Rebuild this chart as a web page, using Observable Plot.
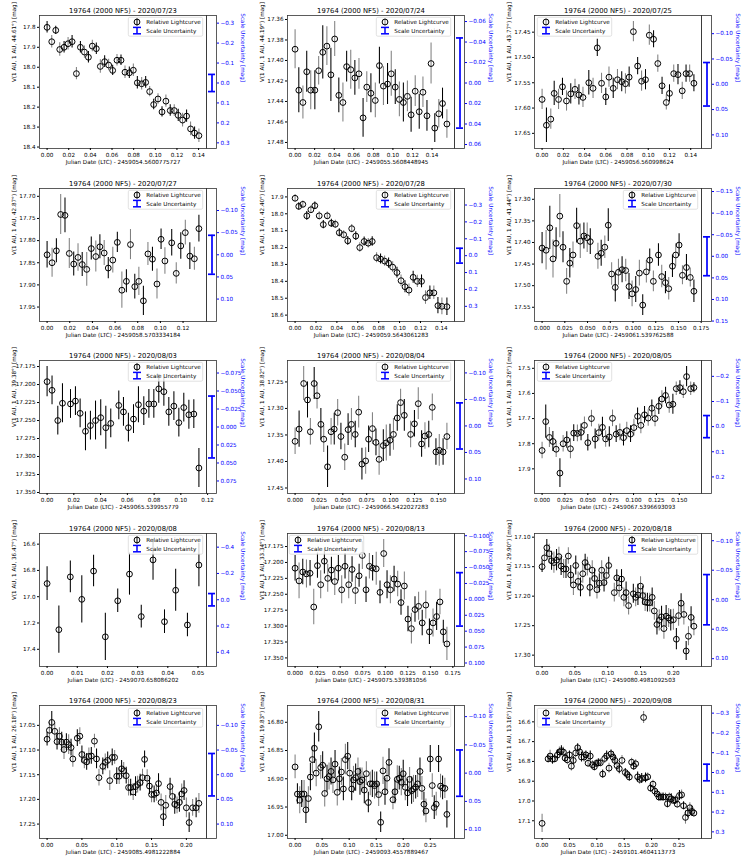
<!DOCTYPE html>
<html><head><meta charset="utf-8">
<script src="https://cdn.jsdelivr.net/npm/d3@7"></script>
<script src="https://cdn.jsdelivr.net/npm/@observablehq/plot@0.6"></script>
<style>
body{margin:0;background:#fff;font-family:"DejaVu Sans",sans-serif;}
#fig{position:relative;width:747px;height:863px;overflow:hidden;background:#fff;}
.panel{position:absolute;width:249px;height:173px;}
.panel svg{position:absolute;left:0;top:0;overflow:visible;}
</style></head><body><div id="fig"></div>
<script>
// ---------- data ----------
const dates = ["2020/07/23","2020/07/24","2020/07/25","2020/07/27","2020/07/28","2020/07/30","2020/08/03","2020/08/04","2020/08/05","2020/08/08","2020/08/13","2020/08/18","2020/08/23","2020/08/31","2020/09/08"];
const phases = ["44.61","44.19","43.77","42.87","42.40","41.44","39.38","38.82","38.26","36.47","33.34","29.90","26.18","19.83","13.16"];
const jdBase = ["2459054.5600775727","2459055.5608448945","2459056.560998624","2459058.5703334184","2459059.5643061283","2459061.539762588","2459065.539955779","2459066.5422027283","2459067.5396693093","2459070.658086202","2459075.539381056","2459080.4981092503","2459085.4981222884","2459093.4557889467","2459101.4604113773"];
const scaleZero = [18.079,17.422,17.553,17.832,18.248,17.432,17.259,17.333,17.732,17.023,17.258,17.206,17.150,16.890,16.856];
const scaleUnc = [0.043,0.044,0.043,0.044,0.044,0.045,0.043,0.0435,0.044,0.047,0.042,0.0426,0.043,0.041,0.042];

const x0723 = [0,0.0043,0.008,0.0117,0.0157,0.0194,0.0231,0.0271,0.0308,0.0345,0.0382,0.0418,0.0455,0.0492,0.0532,0.0569,0.0606,0.0646,0.0683,0.072,0.076,0.0797,0.0834,0.0874,0.0911,0.0948,0.0985,0.1025,0.1062,0.1098,0.1138,0.1175,0.1212,0.1252,0.1289,0.1326,0.1363,0.1403];
const y0723 = [17.800,17.872,17.815,17.911,17.900,17.882,17.872,18.032,17.900,17.924,17.950,17.894,17.907,17.996,17.972,17.989,18.016,17.965,17.965,18.025,18.028,18.015,18.078,18.083,18.076,18.122,18.187,18.159,18.224,18.170,18.217,18.217,18.241,18.265,18.245,18.309,18.330,18.343];
const e0723 = [0.029,0.031,0.021,0.034,0.029,0.031,0.031,0.031,0.029,0.031,0.029,0.029,0.029,0.034,0.029,0.029,0.026,0.029,0.026,0.031,0.029,0.031,0.031,0.031,0.029,0.026,0.026,0.026,0.026,0.031,0.029,0.029,0.031,0.034,0.031,0.034,0.031,0.034];

const x0724 = [0,0.0038,0.008,0.0119,0.016,0.0202,0.0241,0.0283,0.0325,0.0366,0.0405,0.0447,0.0489,0.0527,0.0569,0.0611,0.0653,0.0695,0.0733,0.0775,0.082,0.0862,0.0903,0.0945,0.0983,0.1024,0.1066,0.1107,0.1148,0.1186,0.1228,0.1269,0.1307,0.1348,0.139,0.1428,0.1469,0.1507,0.1552];
const y0724 = [17.389,17.429,17.441,17.411,17.429,17.429,17.410,17.392,17.386,17.414,17.379,17.434,17.441,17.406,17.409,17.417,17.413,17.456,17.426,17.432,17.439,17.405,17.425,17.423,17.413,17.426,17.438,17.441,17.435,17.453,17.430,17.450,17.431,17.454,17.403,17.466,17.452,17.442,17.462];
const e0724 = [0.019,0.022,0.016,0.020,0.019,0.019,0.014,0.026,0.019,0.026,0.017,0.017,0.019,0.015,0.019,0.017,0.015,0.019,0.015,0.019,0.017,0.018,0.019,0.020,0.022,0.017,0.017,0.019,0.015,0.017,0.015,0.017,0.015,0.015,0.020,0.014,0.014,0.015,0.014];

const x0725 = [0,0.0041,0.0082,0.0114,0.0155,0.0192,0.023,0.027,0.031,0.0347,0.0385,0.044,0.048,0.052,0.056,0.060,0.063,0.067,0.071,0.075,0.0785,0.082,0.086,0.090,0.0937,0.0974,0.101,0.105,0.109,0.113,0.117,0.120,0.124,0.128,0.132,0.1356,0.139,0.143];
const y0725 = [17.583,17.634,17.622,17.571,17.583,17.558,17.586,17.572,17.563,17.574,17.579,17.550,17.561,17.481,17.551,17.578,17.539,17.561,17.544,17.548,17.552,17.539,17.449,17.517,17.547,17.544,17.456,17.464,17.512,17.556,17.589,17.571,17.532,17.534,17.566,17.532,17.532,17.551];
const e0725 = [0.02,0.034,0.02,0.024,0.02,0.017,0.02,0.02,0.02,0.02,0.02,0.024,0.02,0.017,0.02,0.017,0.02,0.02,0.02,0.02,0.02,0.02,0.02,0.017,0.02,0.02,0.02,0.017,0.017,0.017,0.015,0.017,0.017,0.02,0.017,0.017,0.017,0.017];

const x0727 = [0,0.0044,0.0082,0.012,0.0158,0.0196,0.0235,0.0273,0.031,0.035,0.039,0.043,0.0466,0.0504,0.054,0.058,0.062,0.066,0.070,0.0736,0.0774,0.081,0.085,0.089,0.093,0.097,0.1006,0.104,0.110,0.114,0.118,0.122,0.126,0.130,0.134];
const y0727 = [17.832,17.850,17.823,17.741,17.743,17.829,17.853,17.838,17.854,17.865,17.818,17.836,17.814,17.828,17.862,17.844,17.804,17.912,17.892,17.809,17.904,17.892,17.936,17.830,17.842,17.898,17.797,17.846,17.805,17.874,17.812,17.782,17.835,17.841,17.773];
const e0727 = [0.03,0.033,0.027,0.045,0.039,0.034,0.027,0.031,0.027,0.038,0.026,0.035,0.027,0.028,0.024,0.029,0.023,0.041,0.026,0.034,0.028,0.032,0.033,0.026,0.027,0.034,0.023,0.03,0.03,0.024,0.03,0.028,0.03,0.026,0.03];

const x0728 = [0,0.0035,0.0074,0.0112,0.0151,0.0189,0.0231,0.027,0.0308,0.0347,0.0385,0.0423,0.0465,0.0504,0.0542,0.0581,0.0619,0.0661,0.07,0.0738,0.078,0.0818,0.0857,0.0895,0.0934,0.0975,0.1014,0.1052,0.109,0.113,0.117,0.121,0.1248,0.129,0.1328,0.1367,0.1405,0.1453];
const y0728 = [17.908,17.956,17.944,18.012,17.976,17.952,18.012,18.064,18.012,18.056,18.062,18.112,18.124,18.160,18.088,18.132,18.200,18.164,18.174,18.164,18.260,18.268,18.280,18.292,18.316,18.348,18.396,18.432,18.452,18.376,18.400,18.400,18.496,18.468,18.468,18.544,18.548,18.550];
const e0728 = [0.022,0.022,0.02,0.026,0.022,0.022,0.024,0.024,0.022,0.024,0.024,0.024,0.024,0.026,0.024,0.026,0.028,0.026,0.028,0.028,0.03,0.03,0.03,0.03,0.032,0.032,0.034,0.036,0.036,0.036,0.036,0.038,0.04,0.04,0.04,0.048,0.05,0.052];

const x0730 = [0,0.0044,0.0085,0.012,0.0154,0.0195,0.023,0.027,0.0305,0.034,0.038,0.042,0.046,0.0496,0.053,0.0614,0.065,0.069,0.0728,0.0765,0.0805,0.084,0.088,0.092,0.0956,0.099,0.103,0.107,0.1107,0.1147,0.1184,0.1224,0.128,0.1316,0.1357,0.1393,0.1434,0.147,0.1507,0.1544,0.1588,0.163,0.167];
const y0730 = [17.413,17.418,17.366,17.438,17.402,17.339,17.411,17.490,17.448,17.429,17.361,17.397,17.385,17.389,17.398,17.432,17.425,17.411,17.360,17.473,17.504,17.469,17.463,17.465,17.502,17.519,17.509,17.471,17.545,17.468,17.441,17.490,17.429,17.479,17.493,17.507,17.455,17.429,17.406,17.476,17.458,17.481,17.513];
const e0730 = [0.036,0.046,0.05,0.044,0.036,0.05,0.036,0.03,0.034,0.03,0.04,0.04,0.03,0.034,0.03,0.03,0.03,0.026,0.038,0.026,0.034,0.03,0.03,0.026,0.03,0.03,0.03,0.03,0.024,0.026,0.026,0.024,0.026,0.026,0.026,0.026,0.026,0.026,0.026,0.022,0.03,0.022,0.026];

const x0803 = [0,0.0037,0.008,0.0115,0.0175,0.0212,0.0247,0.0287,0.0324,0.0362,0.0401,0.0439,0.0476,0.0536,0.0571,0.0608,0.0646,0.0683,0.0723,0.0761,0.0798,0.0835,0.0873,0.091,0.0948,0.0985,0.1022,0.106,0.1097,0.1135];
const y0803 = [17.196,17.208,17.250,17.226,17.227,17.223,17.240,17.265,17.257,17.250,17.246,17.260,17.254,17.229,17.238,17.260,17.248,17.228,17.237,17.227,17.227,17.206,17.210,17.238,17.230,17.253,17.232,17.242,17.241,17.316];
const e0803 = [0.021,0.02,0.02,0.027,0.02,0.02,0.02,0.027,0.02,0.027,0.025,0.03,0.02,0.02,0.02,0.02,0.02,0.025,0.02,0.02,0.02,0.02,0.02,0.02,0.02,0.02,0.02,0.02,0.02,0.027];

const x0804 = [0,0.0042,0.009,0.013,0.016,0.020,0.023,0.027,0.030,0.034,0.0377,0.041,0.0446,0.048,0.052,0.0555,0.059,0.063,0.0666,0.070,0.0739,0.077,0.081,0.0847,0.088,0.0924,0.0955,0.0994,0.103,0.107,0.1105,0.1144,0.121,0.125,0.129,0.1325,0.136,0.140,0.1437,0.1475,0.151,0.155,0.159];
const y0804 = [17.362,17.339,17.253,17.284,17.344,17.253,17.276,17.330,17.358,17.410,17.344,17.339,17.308,17.353,17.392,17.340,17.330,17.349,17.307,17.405,17.399,17.358,17.338,17.364,17.396,17.370,17.365,17.360,17.349,17.318,17.289,17.313,17.349,17.329,17.291,17.367,17.352,17.349,17.298,17.382,17.379,17.382,17.353];
const e0804 = [0.025,0.034,0.032,0.034,0.025,0.03,0.025,0.03,0.025,0.039,0.025,0.03,0.025,0.025,0.025,0.03,0.03,0.025,0.03,0.03,0.025,0.025,0.03,0.025,0.03,0.03,0.034,0.03,0.03,0.025,0.025,0.03,0.025,0.025,0.03,0.025,0.025,0.025,0.025,0.025,0.03,0.025,0.025];

const x0805 = [0,0.004,0.008,0.0118,0.0154,0.0195,0.023,0.027,0.031,0.0346,0.0386,0.0426,0.0463,0.050,0.054,0.058,0.062,0.066,0.0695,0.0735,0.077,0.081,0.085,0.089,0.0926,0.0967,0.1004,0.1044,0.108,0.112,0.116,0.120,0.1235,0.1276,0.131,0.135,0.139,0.143,0.1467,0.1507,0.1544,0.158,0.1625,0.166];
const y0805 = [17.827,17.712,17.775,17.791,17.822,17.917,17.800,17.785,17.820,17.758,17.759,17.755,17.727,17.796,17.700,17.781,17.756,17.735,17.781,17.773,17.699,17.762,17.755,17.776,17.748,17.762,17.736,17.691,17.727,17.685,17.698,17.659,17.700,17.651,17.622,17.608,17.646,17.643,17.581,17.577,17.593,17.533,17.581,17.577];
const e0805 = [0.033,0.066,0.04,0.04,0.033,0.057,0.033,0.033,0.04,0.033,0.033,0.033,0.033,0.033,0.033,0.04,0.033,0.04,0.033,0.04,0.033,0.033,0.033,0.033,0.033,0.033,0.033,0.033,0.033,0.033,0.033,0.033,0.033,0.033,0.033,0.033,0.033,0.04,0.027,0.027,0.027,0.04,0.027,0.02];

const x0808 = [0,0.0039,0.0077,0.0115,0.0154,0.0193,0.0234,0.0273,0.0312,0.0351,0.0389,0.0426,0.0465,0.0503];
const y0808 = [16.900,17.251,16.849,17.020,16.805,17.305,17.031,16.828,17.151,16.720,17.190,16.951,17.215,16.759];
const e0808 = [0.128,0.18,0.12,0.18,0.12,0.18,0.09,0.16,0.087,0.155,0.09,0.16,0.09,0.165];

const x0813 = [0,0.0044,0.0085,0.0126,0.0166,0.0207,0.0248,0.0284,0.0325,0.0362,0.0403,0.044,0.048,0.0517,0.0554,0.0595,0.0632,0.0669,0.071,0.0746,0.0787,0.0824,0.086,0.090,0.0942,0.0983,0.102,0.1057,0.1098,0.1138,0.1175,0.1212,0.1252,0.129,0.133,0.137,0.141,0.145,0.149,0.153,0.157,0.1607,0.1644,0.1684];
const y0813 = [17.209,17.229,17.215,17.218,17.217,17.270,17.205,17.235,17.198,17.225,17.212,17.230,17.209,17.243,17.206,17.235,17.211,17.244,17.221,17.189,17.243,17.206,17.209,17.210,17.247,17.186,17.235,17.243,17.226,17.234,17.263,17.237,17.289,17.304,17.274,17.269,17.295,17.267,17.309,17.295,17.285,17.262,17.309,17.328];
const e0813 = [0.02,0.028,0.02,0.022,0.02,0.028,0.02,0.022,0.02,0.022,0.02,0.022,0.02,0.022,0.02,0.022,0.02,0.022,0.018,0.022,0.02,0.02,0.02,0.026,0.018,0.022,0.022,0.022,0.02,0.02,0.02,0.022,0.02,0.024,0.02,0.022,0.02,0.022,0.02,0.022,0.022,0.02,0.018,0.026];

const x0818 = [0,0.0036,0.0072,0.0108,0.0144,0.018,0.022,0.0256,0.029,0.0328,0.0364,0.040,0.0436,0.0477,0.0513,0.0549,0.0585,0.062,0.0656,0.069,0.0728,0.0764,0.080,0.0836,0.0872,0.0908,0.0944,0.098,0.1015,0.110,0.1138,0.1174,0.121,0.1246,0.128,0.1318,0.139,0.1426,0.146,0.150,0.1533,0.157,0.1605,0.164,0.1677,0.171,0.175,0.1785,0.182,0.1856,0.189,0.1928,0.196,0.200,0.2046,0.208,0.2118,0.216,0.2195,0.223,0.227,0.2313];
const y0818 = [17.150,17.135,17.118,17.128,17.140,17.143,17.139,17.133,17.149,17.154,17.154,17.132,17.164,17.181,17.148,17.175,17.185,17.162,17.143,17.150,17.185,17.156,17.170,17.189,17.178,17.156,17.177,17.165,17.148,17.194,17.169,17.186,17.171,17.202,17.194,17.216,17.196,17.202,17.198,17.183,17.199,17.210,17.211,17.211,17.202,17.225,17.248,17.241,17.235,17.255,17.234,17.237,17.241,17.240,17.273,17.233,17.212,17.231,17.293,17.268,17.236,17.251];
const e0818 = [0.01,0.012,0.014,0.016,0.016,0.018,0.018,0.016,0.016,0.016,0.016,0.014,0.016,0.018,0.016,0.016,0.016,0.016,0.014,0.016,0.016,0.016,0.016,0.016,0.016,0.016,0.016,0.016,0.014,0.016,0.014,0.016,0.016,0.016,0.018,0.016,0.016,0.016,0.018,0.016,0.016,0.016,0.016,0.016,0.016,0.016,0.018,0.018,0.018,0.018,0.018,0.016,0.018,0.018,0.018,0.018,0.016,0.018,0.016,0.016,0.018,0.016];

const x0823 = [0,0.0033,0.0067,0.011,0.0143,0.0177,0.021,0.0243,0.0277,0.031,0.0344,0.037,0.0434,0.047,0.050,0.0535,0.0568,0.060,0.0635,0.068,0.071,0.0745,0.080,0.0835,0.087,0.090,0.0935,0.097,0.100,0.1035,0.107,0.110,0.1136,0.117,0.120,0.1236,0.127,0.130,0.1336,0.137,0.140,0.1437,0.147,0.150,0.1537,0.157,0.160,0.1637,0.167,0.1704,0.1766,0.180,0.1833,0.1866,0.190,0.1933,0.1967,0.200,0.204,0.209,0.214,0.218];
const y0823 = [17.078,17.060,17.044,17.062,17.083,17.072,17.084,17.099,17.084,17.089,17.095,17.118,17.076,17.072,17.109,17.121,17.124,17.113,17.112,17.082,17.118,17.156,17.133,17.125,17.121,17.162,17.115,17.115,17.153,17.153,17.138,17.142,17.152,17.176,17.176,17.185,17.174,17.170,17.166,17.156,17.119,17.157,17.173,17.190,17.190,17.187,17.168,17.206,17.235,17.212,17.174,17.194,17.210,17.212,17.206,17.189,17.182,17.217,17.247,17.217,17.217,17.208];
const e0823 = [0.014,0.017,0.022,0.017,0.017,0.017,0.02,0.02,0.017,0.02,0.017,0.017,0.017,0.017,0.017,0.017,0.017,0.017,0.017,0.014,0.02,0.017,0.017,0.017,0.017,0.02,0.017,0.014,0.017,0.017,0.017,0.017,0.017,0.017,0.017,0.017,0.02,0.017,0.017,0.017,0.017,0.017,0.017,0.017,0.017,0.017,0.02,0.017,0.02,0.02,0.017,0.02,0.02,0.017,0.02,0.02,0.02,0.02,0.02,0.017,0.02,0.02];

const x0831 = [0,0.0043,0.0086,0.0123,0.0166,0.020,0.0246,0.0283,0.032,0.0357,0.039,0.0437,0.0474,0.051,0.0548,0.059,0.0628,0.0665,0.070,0.0739,0.078,0.0819,0.0856,0.0893,0.093,0.0973,0.101,0.1047,0.108,0.112,0.1163,0.120,0.1238,0.128,0.1318,0.1355,0.139,0.1429,0.147,0.151,0.1546,0.1583,0.1626,0.1663,0.170,0.1737,0.181,0.1847,0.189,0.1927,0.1964,0.200,0.2038,0.208,0.2118,0.2155,0.219,0.223,0.2266,0.231,0.2346,0.2383,0.242,0.250,0.2537,0.2574,0.261,0.2654,0.269,0.2728,0.277,0.2808];
const y0831 = [16.879,16.927,16.938,16.927,16.927,16.955,16.935,16.897,16.866,16.846,16.890,16.808,16.880,16.876,16.926,16.900,16.896,16.887,16.902,16.874,16.924,16.900,16.888,16.918,16.866,16.860,16.890,16.918,16.902,16.898,16.887,16.905,16.902,16.920,16.891,16.942,16.909,16.909,16.912,16.909,16.928,16.977,16.886,16.923,16.899,16.871,16.937,16.923,16.901,16.899,16.906,16.891,16.915,16.925,16.901,16.921,16.918,16.915,16.909,16.887,16.917,16.945,16.957,16.865,16.912,16.951,16.945,16.865,16.913,16.916,16.917,16.963];
const e0831 = [0.021,0.018,0.024,0.024,0.024,0.024,0.021,0.024,0.024,0.027,0.024,0.027,0.021,0.024,0.024,0.024,0.024,0.024,0.024,0.024,0.024,0.021,0.024,0.021,0.027,0.024,0.024,0.021,0.024,0.024,0.024,0.024,0.021,0.024,0.021,0.018,0.021,0.024,0.024,0.021,0.021,0.018,0.024,0.024,0.024,0.024,0.018,0.021,0.024,0.021,0.024,0.024,0.024,0.024,0.021,0.024,0.024,0.021,0.024,0.024,0.021,0.021,0.021,0.024,0.021,0.021,0.021,0.024,0.021,0.021,0.018,0.024];

const x0908 = [0,0.011,0.0146,0.019,0.023,0.028,0.0316,0.0353,0.039,0.042,0.046,0.050,0.0535,0.057,0.0614,0.065,0.0687,0.072,0.0766,0.080,0.084,0.088,0.092,0.0955,0.099,0.1028,0.1064,0.1107,0.1144,0.118,0.1223,0.126,0.1296,0.133,0.1369,0.141,0.146,0.152,0.1557,0.1594,0.1636,0.1673,0.171,0.1746,0.1782,0.182,0.1855,0.189,0.193,0.1983,0.2026,0.206,0.210,0.2135,0.217,0.221,0.2255,0.229,0.2324,0.236,0.2397,0.2433,0.247,0.251,0.2549,0.2585,0.262,0.2664,0.270,0.2737,0.2774];
const y0908 = [17.113,16.787,16.773,16.789,16.787,16.768,16.752,16.746,16.753,16.783,16.792,16.767,16.824,16.795,16.757,16.731,16.752,16.778,16.778,16.767,16.809,16.773,16.817,16.827,16.810,16.807,16.807,16.864,16.785,16.772,16.834,16.762,16.778,16.795,16.821,16.837,16.795,16.856,16.866,16.879,16.804,16.824,16.812,16.878,16.891,16.886,16.578,16.883,16.878,16.935,16.915,16.950,16.964,16.980,16.980,16.980,16.980,17.014,16.980,16.989,16.997,16.996,17.016,16.972,16.969,17.024,17.083,17.061,17.034,17.053,17.061];
const e0908 = [0.046,0.02,0.03,0.025,0.02,0.025,0.025,0.025,0.025,0.02,0.025,0.02,0.025,0.02,0.025,0.02,0.02,0.025,0.025,0.02,0.02,0.025,0.02,0.02,0.02,0.02,0.02,0.02,0.025,0.025,0.025,0.02,0.025,0.025,0.025,0.025,0.025,0.02,0.02,0.02,0.02,0.02,0.02,0.025,0.025,0.025,0.03,0.025,0.02,0.02,0.02,0.02,0.02,0.02,0.02,0.02,0.02,0.02,0.02,0.025,0.02,0.02,0.02,0.025,0.025,0.02,0.034,0.025,0.025,0.025,0.02];

// tick labels
const xTicks = [
 [0,0.02,0.04,0.06,0.08,0.10,0.12,0.14],[0,0.02,0.04,0.06,0.08,0.10,0.12,0.14],[0,0.02,0.04,0.06,0.08,0.10,0.12,0.14],
 [0,0.02,0.04,0.06,0.08,0.10,0.12],[0,0.02,0.04,0.06,0.08,0.10,0.12,0.14],[0,0.025,0.05,0.075,0.1,0.125,0.15,0.175],
 [0,0.02,0.04,0.06,0.08,0.10,0.12],[0,0.025,0.05,0.075,0.1,0.125,0.15],[0,0.025,0.05,0.075,0.1,0.125,0.15],
 [0,0.01,0.02,0.03,0.04,0.05],[0,0.025,0.05,0.075,0.1,0.125,0.15,0.175],[0,0.05,0.10,0.15,0.20],
 [0,0.05,0.10,0.15,0.20],[0,0.05,0.10,0.15,0.20,0.25],[0,0.05,0.10,0.15,0.20,0.25]];
const xDigits = [2,2,2,2,2,3,2,3,3,2,3,2,2,2,2];
const yTicks = [
 [17.8,17.9,18.0,18.1,18.2,18.3,18.4],[17.36,17.38,17.40,17.42,17.44,17.46,17.48],[17.45,17.50,17.55,17.60,17.65],
 [17.70,17.75,17.80,17.85,17.90,17.95],[17.9,18.0,18.1,18.2,18.3,18.4,18.5,18.6],[17.30,17.35,17.40,17.45,17.50,17.55],
 [17.175,17.200,17.225,17.250,17.275,17.300,17.325,17.350],[17.25,17.30,17.35,17.40,17.45],[17.5,17.6,17.7,17.8,17.9],
 [16.6,16.8,17.0,17.2,17.4],[17.175,17.200,17.225,17.250,17.275,17.300,17.325,17.350],[17.10,17.15,17.20,17.25,17.30],
 [17.05,17.10,17.15,17.20,17.25],[16.80,16.85,16.90,16.95,17.00],[16.6,16.7,16.8,16.9,17.0,17.1]];
const yDigits = [1,2,2,2,1,2,3,2,1,1,3,2,2,2,1];
const rTicks = [
 [-0.3,-0.2,-0.1,0,0.1,0.2,0.3],[-0.06,-0.04,-0.02,0,0.02,0.04,0.06],[-0.10,-0.05,0,0.05,0.10],
 [-0.10,-0.05,0,0.05,0.10],[-0.3,-0.2,-0.1,0,0.1,0.2,0.3],[-0.15,-0.10,-0.05,0,0.05,0.10,0.15],
 [-0.075,-0.050,-0.025,0,0.025,0.050,0.075],[-0.10,-0.05,0,0.05,0.10],[-0.2,-0.1,0,0.1,0.2],
 [-0.4,-0.2,0,0.2,0.4],[-0.100,-0.075,-0.050,-0.025,0,0.025,0.050,0.075,0.100],[-0.10,-0.05,0,0.05,0.10],
 [-0.10,-0.05,0,0.05,0.10],[-0.10,-0.05,0,0.05,0.10],[-0.3,-0.2,-0.1,0,0.1,0.2,0.3]];
const rDigits = [1,2,2,2,1,2,3,2,1,1,3,2,2,2,1];

// styles
const firstBar = ["black","gray","gray","black","gray","black","black","gray","gray","black","black","black","black","gray","gray"];
const alternates = [1,1,1,1,1,1,0,1,1,0,1,1,1,1,1];
const legendSide = ["right","right","left","right","right","right","right","right","left","right","left","right","right","right","left"];

const xs = [x0723,x0724,x0725,x0727,x0728,x0730,x0803,x0804,x0805,x0808,x0813,x0818,x0823,x0831,x0908];
const ys = [y0723,y0724,y0725,y0727,y0728,y0730,y0803,y0804,y0805,y0808,y0813,y0818,y0823,y0831,y0908];
const es = [e0723,e0724,e0725,e0727,e0728,e0730,e0803,e0804,e0805,e0808,e0813,e0818,e0823,e0831,e0908];

// ---------- drawing ----------
const FONT = "DejaVu Sans";
const FS = 5.65;
const W = 249, H = 173, MT = 15, MB = 25, ML = 39, MR = 43, TW = 10;
const fig = d3.select("#fig");

dates.forEach((date, i) => {
  const col = i % 3, row = Math.floor(i / 3);
  const div = fig.append("div").attr("class", "panel")
    .style("left", (col * 247.5) + "px").style("top", (row * 172.6) + "px");
  const n = Math.min(xs[i].length, ys[i].length, es[i].length);
  const other = firstBar[i] === "black" ? "gray" : "black";
  const data = d3.range(n).map(k => ({
    x: xs[i][k], y: ys[i][k], e: es[i][k],
    c: alternates[i] ? (k % 2 === 0 ? firstBar[i] : other) : firstBar[i]
  }));
  const xmin = d3.min(data, d => d.x), xmax = d3.max(data, d => d.x), xr = xmax - xmin;
  const lo = d3.min(data, d => d.y - d.e), hi = d3.max(data, d => d.y + d.e), yr = hi - lo;
  const xd = [xmin - 0.05 * xr, xmax + 0.05 * xr];
  const yd = [lo - 0.05 * yr, hi + 0.05 * yr];
  const style = {fontFamily: FONT, fontSize: FS + "px", background: "transparent", overflow: "visible", color: "black"};

  const main = Plot.plot({
    width: W, height: H, marginLeft: ML, marginRight: MR, marginTop: MT, marginBottom: MB,
    style,
    x: {domain: xd, label: null},
    y: {domain: yd, reverse: true, label: null},
    marks: [
      Plot.ruleX(data, {x: "x", y1: d => d.y - d.e, y2: d => d.y + d.e, stroke: "c", strokeWidth: 1.05}),
      Plot.dot(data, {x: "x", y: "y", r: 2.9, stroke: "black", strokeWidth: 1, fill: "none"}),
      Plot.frame({stroke: "#333", strokeWidth: 0.8}),
      Plot.axisX({ticks: xTicks[i], tickFormat: d3.format("." + xDigits[i] + "f"), tickSize: 2, tickPadding: 2, fontSize: FS, label: null}),
      Plot.axisY({ticks: yTicks[i], tickFormat: d3.format("." + yDigits[i] + "f"), tickSize: 2, tickPadding: 2, fontSize: FS, label: null}),
      Plot.text([`19764 (2000 NF5) - ${date}`], {frameAnchor: "top", dy: -7.6, fontSize: 6.8}),
      Plot.text([`Julian Date (LTC) - ${jdBase[i]}`], {frameAnchor: "bottom", dy: 15.5, fontSize: FS}),
      Plot.text([`V(1 AU, 1 AU, ${phases[i]}°) [mag]`], {frameAnchor: "left", dx: -25, rotate: -90, fontSize: FS})
    ]
  });
  div.node().appendChild(main);

  const z = scaleZero[i], s = scaleUnc[i];
  const twin = Plot.plot({
    width: W, height: H, marginLeft: W - MR, marginRight: MR - TW, marginTop: MT, marginBottom: MB,
    style,
    x: {type: "band", domain: ["s"], padding: 0.13, axis: null},
    y: {domain: [yd[0] - z, yd[1] - z], reverse: true, label: null},
    marks: [
      Plot.ruleX([{k: "s"}], {x: "k", y1: -s, y2: s, stroke: "blue", strokeWidth: 1.7}),
      Plot.tickY([-s, s], {x: () => "s", y: d => d, stroke: "blue", strokeWidth: 1.7}),
      Plot.frame({stroke: "#333", strokeWidth: 0.8}),
      Plot.axisY({anchor: "right", ticks: rTicks[i], tickFormat: d3.format("." + rDigits[i] + "f"), color: "blue", tickSize: 2, tickPadding: 2, fontSize: FS, label: null}),
      Plot.text(["Scale Uncertainty [mag]"], {frameAnchor: "right", dx: 26, rotate: 90, fill: "blue", fontSize: FS})
    ]
  });
  div.node().appendChild(twin);

  // legend
  const LW = 75, LH = 19.5;
  const lx = legendSide[i] === "left" ? ML + 2.6 : W - MR - 2.6 - LW;
  const lg = div.append("svg").attr("width", LW).attr("height", LH)
    .style("left", lx + "px").style("top", (MT + 2.2) + "px")
    .style("font-family", FONT).style("font-size", FS + "px");
  lg.append("rect").attr("x", 0.3).attr("y", 0.3).attr("width", LW - 0.6).attr("height", LH - 0.6)
    .attr("rx", 1.5).attr("fill", "white").attr("fill-opacity", 0.8).attr("stroke", "#cccccc").attr("stroke-width", 0.6);
  const mx = 9, r1 = 5, r2 = 13.6;
  lg.append("line").attr("x1", mx).attr("x2", mx).attr("y1", r1 - 3.6).attr("y2", r1 + 3.6)
    .attr("stroke", firstBar[i]).attr("stroke-width", 1);
  lg.append("circle").attr("cx", mx).attr("cy", r1).attr("r", 2.9)
    .attr("fill", "none").attr("stroke", "black").attr("stroke-width", 1);
  lg.append("text").attr("x", 18.3).attr("y", r1).attr("dy", "0.35em").text("Relative Lightcurve");
  lg.append("line").attr("x1", mx).attr("x2", mx).attr("y1", r2 - 3.2).attr("y2", r2 + 3.2)
    .attr("stroke", "blue").attr("stroke-width", 1.5);
  [r2 - 3.2, r2 + 3.2].forEach(yy => lg.append("line").attr("x1", mx - 4).attr("x2", mx + 4)
    .attr("y1", yy).attr("y2", yy).attr("stroke", "blue").attr("stroke-width", 1.5));
  lg.append("text").attr("x", 18.3).attr("y", r2).attr("dy", "0.35em").text("Scale Uncertainty");
});
</script></body></html>
